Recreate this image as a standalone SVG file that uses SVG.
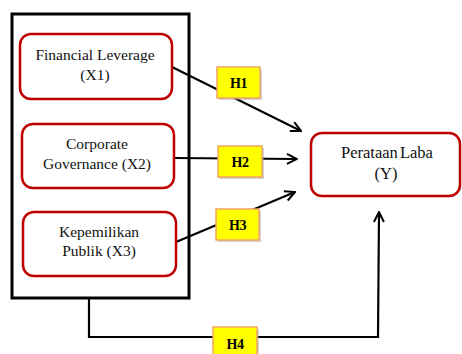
<svg xmlns="http://www.w3.org/2000/svg" width="462" height="354" viewBox="0 0 462 354">
<style>
.node rect{fill:#fff;stroke:#C00000;stroke-width:2.5}
.node text{font-family:'Liberation Serif','Times New Roman',Times,serif;font-size:15.5px;fill:#111;text-anchor:middle}
.conn{fill:none;stroke:#000;stroke-width:2.2}
.lbl rect.b{fill:#FFFF00;stroke:#F4A460;stroke-width:1.5}
.lbl rect.s{fill:#999;opacity:0.45}
.lbl text{font-family:'Liberation Serif','Times New Roman',Times,serif;font-size:14px;font-weight:bold;fill:#000;text-anchor:middle;letter-spacing:-0.5px}
</style>
<defs>
<marker id="arr" viewBox="0 0 12 12" refX="11" refY="6" markerWidth="12" markerHeight="12" markerUnits="userSpaceOnUse" orient="auto">
<path d="M1,1 L11,6 L1,11" fill="none" stroke="#000" stroke-width="2"/>
</marker>
</defs>
<rect width="462" height="354" fill="#fff"/>
<g id="container">
<rect x="12" y="14" width="177" height="284" fill="none" stroke="#000" stroke-width="3"/>
</g>
<g id="connectors">
<line class="conn" x1="172" y1="67" x2="301" y2="131" marker-end="url(#arr)"/>
<line class="conn" x1="174" y1="158" x2="297" y2="159" marker-end="url(#arr)"/>
<line class="conn" x1="176" y1="242" x2="295" y2="192" marker-end="url(#arr)"/>
<polyline class="conn" points="89,298 89,337 378,337 379,212" marker-end="url(#arr)"/>
</g>
<g id="x1" class="node">
<rect x="20" y="34" width="152" height="65" rx="11"/>
<text x="95" y="60">Financial Leverage</text>
<text x="95" y="80">(X1)</text>
</g>
<g id="x2" class="node">
<rect x="22" y="124" width="152" height="64" rx="11"/>
<text x="97" y="149">Corporate</text>
<text x="97" y="169">Governance (X2)</text>
</g>
<g id="x3" class="node">
<rect x="23" y="212" width="153" height="64" rx="11"/>
<text x="99" y="237">Kepemilikan</text>
<text x="99" y="256">Publik (X3)</text>
</g>
<g id="y" class="node">
<rect x="311" y="133" width="149" height="63" rx="11"/>
<text x="387" y="158" style="font-size:16.5px;word-spacing:-2px">Perataan Laba</text>
<text x="386" y="179" style="font-size:16.5px">(Y)</text>
</g>
<g id="h1" class="lbl">
<rect class="s" x="219" y="69" width="43" height="31"/>
<rect class="b" x="217" y="67" width="43" height="31"/>
<text x="238.5" y="88">H1</text>
</g>
<g id="h2" class="lbl">
<rect class="s" x="220" y="148" width="44" height="31"/>
<rect class="b" x="218" y="146" width="44" height="31"/>
<text x="240" y="167">H2</text>
</g>
<g id="h3" class="lbl">
<rect class="s" x="218" y="211" width="43" height="31"/>
<rect class="b" x="216" y="209" width="43" height="31"/>
<text x="237.5" y="230">H3</text>
</g>
<g id="h4" class="lbl">
<rect class="s" x="215" y="329" width="44" height="31"/>
<rect class="b" x="213" y="327" width="44" height="31"/>
<text x="235" y="349">H4</text>
</g>
</svg>
